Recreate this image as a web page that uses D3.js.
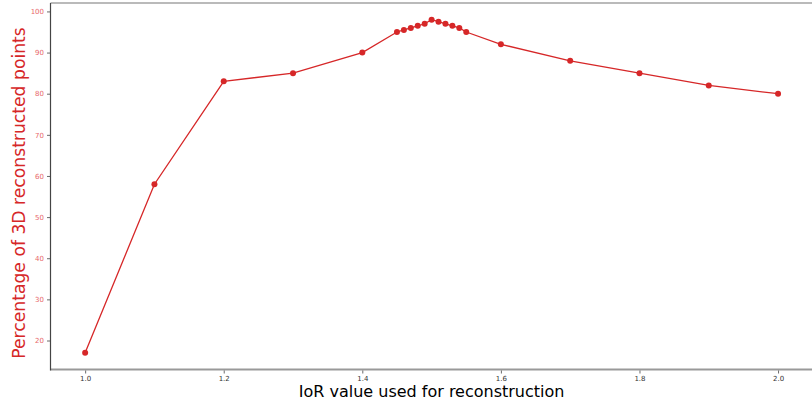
<!DOCTYPE html>
<html><head><meta charset="utf-8">
<script src="https://cdn.jsdelivr.net/npm/d3@7"></script>
<style>body{margin:0;background:#fff;}svg{display:block;font-family:"DejaVu Sans",sans-serif;}</style>
</head><body><svg id="c" width="812" height="404"></svg>
<script>
const iorValues = [1.0, 1.1, 1.2, 1.3, 1.4, 1.45, 1.46, 1.47, 1.48, 1.49, 1.5, 1.51, 1.52, 1.53, 1.54, 1.55, 1.6, 1.7, 1.8, 1.9, 2.0];
const percentages = [17, 58, 83, 85, 90, 95, 95.5, 96, 96.5, 97, 98, 97.5, 97, 96.5, 96, 95, 92, 88, 85, 82, 80];
const xTicks = [1.0, 1.2, 1.4, 1.6, 1.8, 2.0];
const yTicks = [20, 30, 40, 50, 60, 70, 80, 90, 100];
const xLabel = "IoR value used for reconstruction";
const yLabel = "Percentage of 3D reconstructed points";

const svg = d3.select("#c");
const L = 50.5, R = 812.7, T = 3, B = 369.5;
const x = d3.scaleLinear().domain([0.95, 2.05]).range([L, R]);
const y = d3.scaleLinear().domain([12.95, 102.05]).range([B, T]);
const red = "#d62728";

// spines
svg.append("line").attr("x1", L).attr("x2", R).attr("y1", T).attr("y2", T).attr("stroke", "#777").attr("stroke-width", 1.2);
svg.append("line").attr("x1", L).attr("x2", R).attr("y1", B).attr("y2", B).attr("stroke", "#999").attr("stroke-width", 2);

// x axis
const xa = svg.append("g").attr("transform", `translate(0,${B + 1})`)
  .call(d3.axisBottom(x).tickValues(xTicks).tickFormat(d3.format(".1f")).tickSize(3).tickPadding(3));
xa.select(".domain").remove();
xa.selectAll(".tick line").attr("stroke", "#444").attr("stroke-width", 0.8);
xa.selectAll(".tick text").attr("fill", "#333").style("font-size", "7px").style("font-family", "DejaVu Sans");

// y axis
const ya = svg.append("g").attr("transform", `translate(${L},0)`)
  .call(d3.axisLeft(y).tickValues(yTicks).tickSize(3.5).tickPadding(3));
ya.select(".domain").remove();
ya.selectAll(".tick line").attr("stroke", "#444").attr("stroke-width", 0.8);
ya.selectAll(".tick text").attr("fill", "#e8676a").style("font-size", "7px").style("font-family", "DejaVu Sans");
svg.append("line").attr("x1", L).attr("x2", L).attr("y1", T).attr("y2", B + 1).attr("stroke", "#444").attr("stroke-width", 1.2);

// line + markers
const pts = iorValues.map((v, i) => [v, percentages[i]]);
svg.append("path").datum(pts)
  .attr("d", d3.line().x(d => x(d[0])).y(d => y(d[1])))
  .attr("fill", "none").attr("stroke", red).attr("stroke-width", 1.3);
svg.append("g").selectAll("circle").data(pts).join("circle")
  .attr("cx", d => x(d[0])).attr("cy", d => y(d[1])).attr("r", 3).attr("fill", red);

// labels
svg.append("text").attr("x", (L + R) / 2).attr("y", 397).attr("text-anchor", "middle")
  .attr("fill", "#000").style("font-size", "16px").text(xLabel);
svg.append("text").attr("transform", `translate(25,${193}) rotate(-90)`).attr("text-anchor", "middle")
  .attr("fill", red).style("font-size", "17.2px").text(yLabel);
</script></body></html>
